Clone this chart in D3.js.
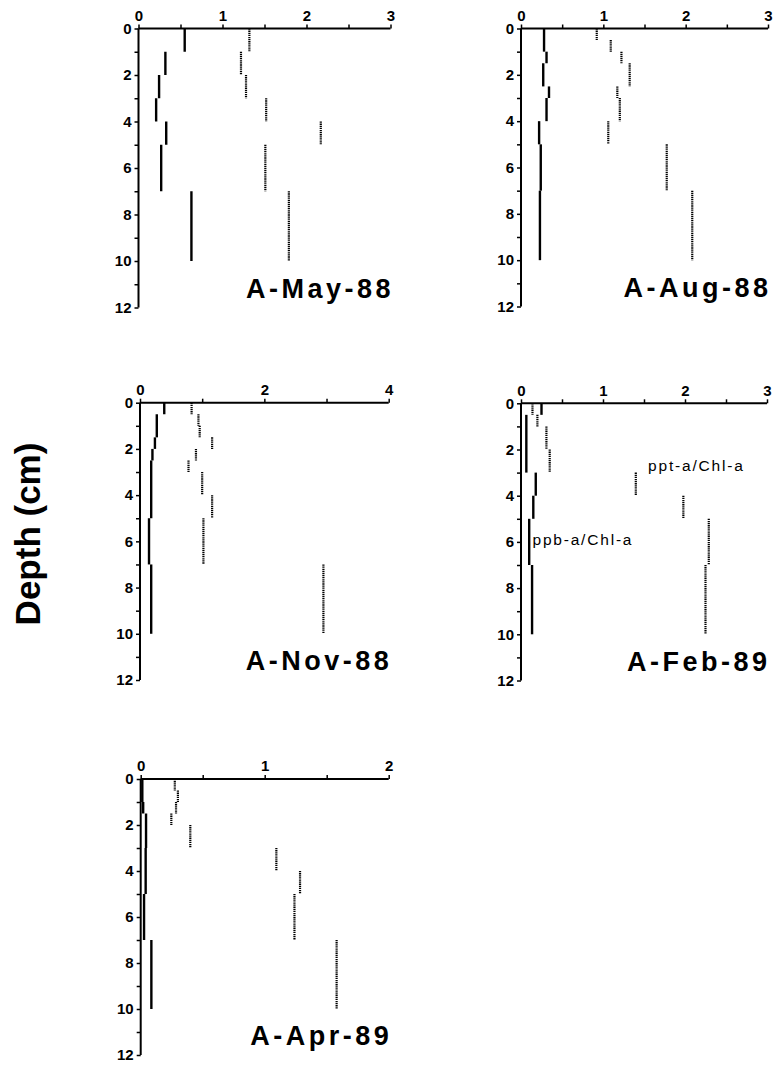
<!DOCTYPE html>
<html><head><meta charset="utf-8">
<script src="https://cdn.jsdelivr.net/npm/d3@7"></script>
<style>body{margin:0;background:#fff} svg{display:block}</style>
</head><body><svg id="c" width="774" height="1068"></svg>
<script>
// ---------- data ----------
const panelTitles = ["A-May-88", "A-Aug-88", "A-Nov-88", "A-Feb-89", "A-Apr-89"];
const xMax = [3, 3, 4, 3, 2];
const xLabelStep = [1, 1, 2, 1, 1];
const depthTicks = [0,1,2,3,4,5,6,7,8,9,10,11,12];
const depthLabels = [0,2,4,6,8,10,12];

// [top depth cm, bottom depth cm, value]
const may88_ppb = [[0,1,0.55],[1,2,0.32],[2,3,0.245],[3,4,0.21],[4,5,0.33],[5,7,0.27],[7,10,0.63]];
const may88_ppt = [[0,1,1.32],[1,2,1.22],[2,3,1.28],[3,4,1.52],[4,5,2.17],[5,7,1.51],[7,10,1.79]];

const aug88_ppb = [[0,1,0.28],[1,1.5,0.31],[1.5,2.5,0.27],[2.5,3,0.34],[3,4,0.31],[4,5,0.22],[5,7,0.24],[7,10,0.23]];
const aug88_ppt = [[0,0.5,0.92],[0.5,1,1.09],[1,1.5,1.22],[1.5,2.5,1.32],[2.5,3,1.17],[3,4,1.2],[4,5,1.06],[5,7,1.77],[7,10,2.08]];

const nov88_ppb = [[0,0.5,0.39],[0.5,1.5,0.27],[1.5,2,0.24],[2,2.5,0.2],[2.5,5,0.18],[5,7,0.145],[7,10,0.18]];
const nov88_ppt = [[0,0.5,0.83],[0.5,1,0.94],[1,1.5,0.96],[1.5,2,1.16],[2,2.5,0.9],[2.5,3,0.78],[3,4,1.0],[4,5,1.16],[5,7,1.02],[7,10,2.95]];

const feb89_ppb = [[0,0.5,0.25],[0.5,3,0.065],[3,4,0.18],[4,5,0.15],[5,7,0.1],[7,10,0.135]];
const feb89_ppt = [[0,0.5,0.14],[0.5,1,0.2],[1,2,0.31],[2,3,0.35],[3,4,1.4],[4,5,1.98],[5,7,2.29],[7,10,2.25]];

const apr89_ppb = [[0,1,0.013],[1,1.5,0.02],[1.5,3,0.043],[3,5,0.04],[5,7,0.027],[7,10,0.086]];
const apr89_ppt = [[0,0.5,0.275],[0.5,1,0.3],[1,1.5,0.285],[1.5,2,0.247],[2,3,0.4],[3,4,1.094],[4,5,1.285],[5,7,1.24],[7,10,1.58]];

const ppbSeries = [may88_ppb, aug88_ppb, nov88_ppb, feb89_ppb, apr89_ppb];
const pptSeries = [may88_ppt, aug88_ppt, nov88_ppt, feb89_ppt, apr89_ppt];

const seriesLabels = ["ppt-a/Chl-a", "ppb-a/Chl-a"];
const seriesLabelPos = [[1.55, 2.92], [0.14, 6.12]]; // value, depth (Feb-89 panel)

// ---------- layout ----------
const layout = [
  {x0:138.5, x1:390.5, y0:28.5, y1:307.5},
  {x0:521,   x1:768,   y0:28.5, y1:306.5},
  {x0:140,   x1:388.7, y0:402.7, y1:680},
  {x0:521,   x1:767,   y0:403.3, y1:680.5},
  {x0:140.7, x1:388.7, y0:779,  y1:1055}
];

const svg = d3.select("#c");
const FONT = "'Liberation Sans', Arial, Helvetica, sans-serif";

layout.forEach((L, i) => {
  const x = d3.scaleLinear().domain([0, xMax[i]]).range([L.x0, L.x1]);
  const y = d3.scaleLinear().domain([0, 12]).range([L.y0, L.y1]);
  const g = svg.append("g");

  // x axis (top)
  const half = xLabelStep[i] / 2;
  const xt = d3.range(0, xMax[i] + 1e-9, half);
  const xAxis = d3.axisTop(x).tickValues(xt).tickSize(4).tickSizeOuter(0)
    .tickFormat(d => (Math.abs(d / xLabelStep[i] - Math.round(d / xLabelStep[i])) < 1e-6) ? d3.format("d")(d) : "");
  const gx = g.append("g").attr("transform", `translate(0,${L.y0})`).call(xAxis);
  gx.attr("font-size", 15).attr("font-family", FONT);
  gx.select(".domain").attr("stroke", "#000").attr("stroke-width", 2).attr("d", `M${L.x0},0H${L.x1}`);
  gx.selectAll(".tick line").attr("stroke", "#000").attr("stroke-width", 1.5);
  gx.selectAll(".tick text").attr("font-weight", "bold").attr("fill", "#000").attr("dy", "-0.05em");

  // y axis (left)
  const yAxis = d3.axisLeft(y).tickValues(depthTicks).tickSize(4).tickSizeOuter(0)
    .tickFormat(d => depthLabels.includes(d) ? d : "");
  const gy = g.append("g").attr("transform", `translate(${L.x0},0)`).call(yAxis);
  gy.attr("font-size", 15).attr("font-family", FONT);
  gy.select(".domain").attr("stroke", "#000").attr("stroke-width", 2).attr("d", `M0,${L.y0}V${L.y1}`);
  gy.selectAll(".tick line").attr("stroke", "#000").attr("stroke-width", 1.5);
  gy.selectAll(".tick text").attr("font-weight", "bold").attr("fill", "#000").attr("x", -7);

  // ppb (solid)
  g.append("g").selectAll("line").data(ppbSeries[i]).join("line")
    .attr("x1", d => x(d[2])).attr("x2", d => x(d[2]))
    .attr("y1", d => y(d[0])).attr("y2", d => y(d[1]))
    .attr("stroke", "#000").attr("stroke-width", 2.4);

  // ppt (dotted)
  g.append("g").selectAll("line").data(pptSeries[i]).join("line")
    .attr("x1", d => x(d[2])).attr("x2", d => x(d[2]))
    .attr("y1", d => y(d[0])).attr("y2", d => y(d[1]))
    .attr("stroke", "#000").attr("stroke-width", 2.2).attr("stroke-dasharray", "1.3,0.8");

  // title
  g.append("text").attr("x", L.x1 + 3.5).attr("y", L.y1 - 10)
    .attr("text-anchor", "end").attr("font-family", FONT).attr("font-weight", "bold")
    .attr("font-size", 27).attr("letter-spacing", "3.5px").attr("fill", "#000")
    .text(panelTitles[i]);

  if (i === 3) {
    seriesLabels.forEach((t, k) => {
      g.append("text").attr("x", x(seriesLabelPos[k][0])).attr("y", y(seriesLabelPos[k][1]))
        .attr("font-family", FONT).attr("font-size", 15.5).attr("letter-spacing", "1.8px")
        .attr("fill", "#000").text(t);
    });
  }
});

// y-axis title
svg.append("text").attr("transform", "translate(40,534) rotate(-90)")
  .attr("text-anchor", "middle").attr("font-family", FONT).attr("font-weight", "bold")
  .attr("font-size", 35).attr("fill", "#000").text("Depth (cm)");
</script></body></html>
